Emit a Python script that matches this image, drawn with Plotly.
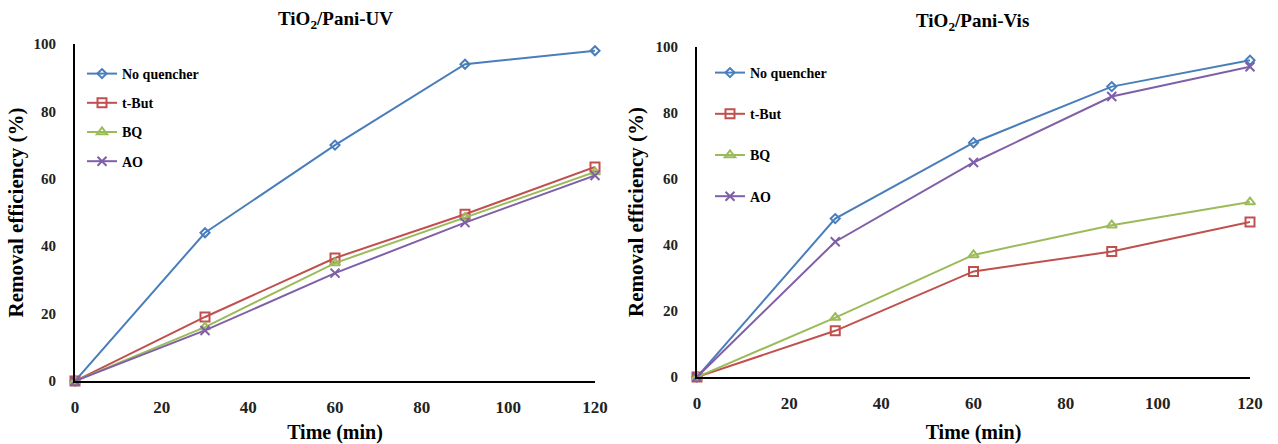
import plotly.graph_objects as go

time = [0, 30, 60, 90, 120]
series_names = ["No quencher", "t-But", "BQ", "AO"]

uv_no_quencher = [0, 44, 70, 94, 98]
uv_tbut = [0, 19, 36.5, 49.5, 63.5]
uv_bq = [0, 16, 35, 48.5, 62]
uv_ao = [0, 15, 32, 47, 61]

vis_no_quencher = [0, 48, 71, 88, 96]
vis_tbut = [0, 14, 32, 38, 47]
vis_bq = [0, 18, 37, 46, 53]
vis_ao = [0, 41, 65, 85, 94]

x_ticks = [0, 20, 40, 60, 80, 100, 120]
y_ticks = [0, 20, 40, 60, 80, 100]

colors = ["#4A7EBB", "#C0504D", "#9BBB59", "#7E5FA8"]
symbols = ["diamond-open", "square-open", "triangle-up-open", "x-thin-open"]
sizes = [7, 9, 9, 9]

FONT = "Liberation Serif"

fig = go.Figure()

uv = [uv_no_quencher, uv_tbut, uv_bq, uv_ao]
vis = [vis_no_quencher, vis_tbut, vis_bq, vis_ao]

for i, (name, ys) in enumerate(zip(series_names, uv)):
    fig.add_trace(go.Scatter(
        x=time, y=ys, name=name, mode="lines+markers",
        line=dict(color=colors[i], width=2),
        marker=dict(symbol=symbols[i], size=sizes[i], color=colors[i],
                    line=dict(color=colors[i], width=2)),
        xaxis="x", yaxis="y", legend="legend", legendgroup="uv" + str(i),
        cliponaxis=False,
    ))
for i, (name, ys) in enumerate(zip(series_names, vis)):
    fig.add_trace(go.Scatter(
        x=time, y=ys, name=name, mode="lines+markers",
        line=dict(color=colors[i], width=2),
        marker=dict(symbol=symbols[i], size=sizes[i], color=colors[i],
                    line=dict(color=colors[i], width=2)),
        xaxis="x2", yaxis="y2", legend="legend2", legendgroup="vis" + str(i),
        cliponaxis=False,
    ))

W, H = 1278, 444

def px(x):
    return x / W

def py(y):
    return 1 - y / H

axis_common = dict(
    showgrid=False, zeroline=False, showline=True, linecolor="black",
    linewidth=2, ticks="", automargin=False,
)
xtick_font = dict(family=FONT, size=17, color="#222", weight="bold")
ytick_font = dict(family=FONT, size=15, color="#222", weight="bold")
xtitle_font = dict(family=FONT, size=20, weight="bold")
ytitle_font = dict(family=FONT, size=21, weight="bold")

fig.update_layout(
    width=W, height=H,
    margin=dict(l=0, r=0, t=0, b=0, autoexpand=False),
    paper_bgcolor="white", plot_bgcolor="white",
    font=dict(family=FONT, color="black", weight="bold"),
    xaxis=dict(domain=[px(75), px(595)], range=[0, 120], tickvals=x_ticks,
               anchor="y", ticklabelstandoff=10, tickfont=xtick_font, **axis_common,
               title=dict(text="Time (min)", font=xtitle_font, standoff=15)),
    yaxis=dict(domain=[py(381), py(44)], range=[0, 100], tickvals=y_ticks,
               anchor="x", ticklabelstandoff=14, tickfont=ytick_font, **axis_common,
               title=dict(text="Removal efficiency (%)", font=ytitle_font, standoff=4)),
    xaxis2=dict(domain=[px(697), px(1250)], range=[0, 120], tickvals=x_ticks,
                anchor="y2", ticklabelstandoff=10, tickfont=xtick_font, **axis_common,
                title=dict(text="Time (min)", font=xtitle_font, standoff=14)),
    yaxis2=dict(domain=[py(377), py(47)], range=[0, 100], tickvals=y_ticks,
                anchor="x2", ticklabelstandoff=14, tickfont=ytick_font, **axis_common,
                title=dict(text="Removal efficiency (%)", font=ytitle_font, standoff=6)),
    legend=dict(x=px(82), y=py(58), xanchor="left", yanchor="top",
                font=dict(family=FONT, size=14, weight="bold"), tracegroupgap=8,
                bgcolor="rgba(0,0,0,0)"),
    legend2=dict(x=px(710), y=py(57), xanchor="left", yanchor="top",
                 font=dict(family=FONT, size=14, weight="bold"), tracegroupgap=20,
                 bgcolor="rgba(0,0,0,0)"),
    annotations=[
        dict(text="TiO<sub>2</sub>/Pani-UV", x=px(335), y=py(20), xref="paper", yref="paper",
             xanchor="center", yanchor="middle",
             showarrow=False, font=dict(family=FONT, size=19, weight="bold")),
        dict(text="TiO<sub>2</sub>/Pani-Vis", x=px(972), y=py(22), xref="paper", yref="paper",
             xanchor="center", yanchor="middle",
             showarrow=False, font=dict(family=FONT, size=19, weight="bold")),
    ],
)

fig.write_html("out.html")
